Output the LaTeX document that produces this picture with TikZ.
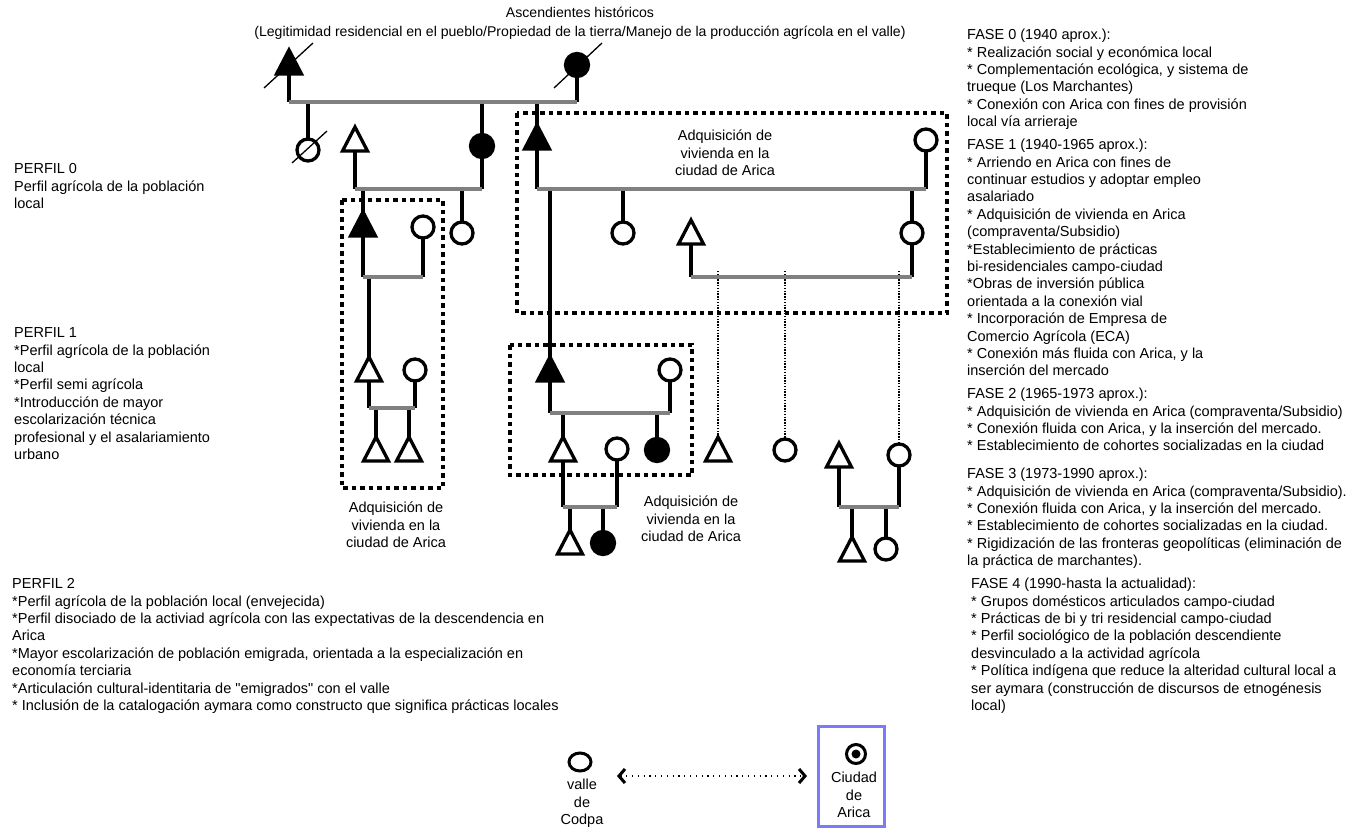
\documentclass[tikz,border=0pt]{standalone}
\usepackage{fontspec}
\setmainfont{Liberation Sans}[Ligatures=TeXOff]
\usetikzlibrary{shapes.geometric,arrows.meta}
\definecolor{tiegray}{RGB}{128,128,128}
\definecolor{legendblue}{RGB}{122,122,250}
\newcommand\txtsize{\fontsize{14.5}{17.4}\selectfont}
\newcommand\firstline{\rule{0pt}{11pt}}
\pgfdeclarelayer{bglayer}
\pgfdeclarelayer{kinlayer}
\pgfsetlayers{bglayer,kinlayer,main}

\begin{document}
\begin{tikzpicture}[x=1pt,y=-1pt,
  stem/.style={line width=3.3pt,black},
  tie/.style={line width=3.3pt,tiegray},
  dline/.style={line width=2.4pt,black,dash pattern=on 1.4pt off 1.4pt},
  dbox/.style={line width=3.4pt,black,dash pattern=on 4.5pt off 4pt},
  slash/.style={line width=1.3pt,black},
  male/.style={isosceles triangle,shape border rotate=90,
    isosceles triangle stretches=true,minimum width=25pt,minimum height=24pt,
    inner sep=0pt,outer sep=0pt,draw,line width=3.3pt,fill=white},
  fmale/.style={male,fill=black},
  female/.style={circle,minimum size=22pt,inner sep=0pt,outer sep=0pt,
    draw,line width=3.3pt,fill=white},
  ffemale/.style={female,fill=black,minimum size=23pt},
  lbl/.style={font=\txtsize,align=center,inner sep=0pt,anchor=north},
  txtblock/.style={font=\txtsize,align=left,inner sep=0pt,anchor=north west},
  legarrow/.style={line width=2.2pt,dash pattern=on 1.2pt off 4.6pt,
    {Straight Barb[length=6pt,width=14pt,line width=3pt]}-{Straight Barb[length=6pt,width=14pt,line width=3pt]}}
]
\begin{pgfonlayer}{bglayer}
\path[use as bounding box,fill=white] (0,0) rectangle (1364,828);
\end{pgfonlayer}

% ---------- texts ----------
\node[lbl,font=\fontsize{14.1}{17.4}\selectfont] (title) at (580,6.5) {\firstline Ascendientes históricos\\[1.5pt]
  (Legitimidad residencial en el pueblo/Propiedad de la tierra/Manejo de la producción agrícola en el valle)};

\node[txtblock] (p0) at (14,162.5) {\firstline PERFIL 0\\
  Perfil agrícola de la población\\local};
\node[txtblock] (p1) at (14,326.5) {\firstline PERFIL 1\\
  *Perfil agrícola de la población\\local\\*Perfil semi agrícola\\
  *Introducción de mayor\\escolarización técnica\\
  profesional y el asalariamiento\\urbano};
\node[txtblock] (p2) at (12,577.5) {\firstline PERFIL 2\\
  *Perfil agrícola de la población local (envejecida)\\
  *Perfil disociado de la activiad agrícola con las expectativas de la descendencia en\\
  Arica\\
  *Mayor escolarización de población emigrada, orientada a la especialización en\\
  economía terciaria\\
  *Articulación cultural-identitaria de "emigrados" con el valle\\
  * Inclusión de la catalogación aymara como constructo que significa prácticas locales};

\node[txtblock] (f0) at (967,28.5) {\firstline FASE 0 (1940 aprox.):\\
  * Realización social y económica local\\
  * Complementación ecológica, y sistema de\\
  trueque (Los Marchantes)\\
  * Conexión con Arica con fines de provisión\\
  local vía arrieraje};
\node[txtblock] (f1) at (967,138.5) {\firstline FASE 1 (1940-1965 aprox.):\\
  * Arriendo en Arica con fines de\\
  continuar estudios y adoptar empleo\\
  asalariado\\
  * Adquisición de vivienda en Arica\\
  (compraventa/Subsidio)\\
  *Establecimiento de prácticas\\
  bi-residenciales campo-ciudad\\
  *Obras de inversión pública\\
  orientada a la conexión vial\\
  * Incorporación de Empresa de\\
  Comercio Agrícola (ECA)\\
  * Conexión más fluida con Arica, y la\\
  inserción del mercado};
\node[txtblock] (f2) at (967,387.5) {\firstline FASE 2 (1965-1973 aprox.):\\
  * Adquisición de vivienda en Arica (compraventa/Subsidio)\\
  * Conexión fluida con Arica, y la inserción del mercado.\\
  * Establecimiento de cohortes socializadas en la ciudad};
\node[txtblock] (f3) at (967,467.5) {\firstline FASE 3 (1973-1990 aprox.):\\
  * Adquisición de vivienda en Arica (compraventa/Subsidio).\\
  * Conexión fluida con Arica, y la inserción del mercado.\\
  * Establecimiento de cohortes socializadas en la ciudad.\\
  * Rigidización de las fronteras geopolíticas (eliminación de\\
  la práctica de marchantes).};
\node[txtblock] (f4) at (971,577.5) {\firstline FASE 4 (1990-hasta la actualidad):\\
  * Grupos domésticos articulados campo-ciudad\\
  * Prácticas de bi y tri residencial campo-ciudad\\
  * Perfil sociológico de la población descendiente\\
  desvinculado a la actividad agrícola\\
  * Política indígena que reduce la alteridad cultural local a\\
  ser aymara (construcción de discursos de etnogénesis\\
  local)};

\node[lbl] (lab1) at (725,129.5) {\firstline Adquisición de\\vivienda en la\\ciudad de Arica};
\node[lbl] (lab2) at (396,501.5) {\firstline Adquisición de\\vivienda en la\\ciudad de Arica};
\node[lbl] (lab3) at (691,495.5) {\firstline Adquisición de\\vivienda en la\\ciudad de Arica};

% ---------- household boxes ----------
\draw[dbox] (342,200) rectangle (443,488);
\draw[dbox] (517,113) rectangle (947,313);
\draw[dbox] (510,345) rectangle (692,475);

% ---------- heights of the couple lines ----------
\coordinate (m0) at (0,102);
\coordinate (m1) at (0,189);
\coordinate (m2) at (0,277);
\coordinate (m3) at (0,408);
\coordinate (m4) at (0,413);
\coordinate (m5) at (0,507);

% ---------- people ----------
\node[fmale,anchor=apex] (a1) at (289,50) {};
\node[ffemale] (a2) at (577,65) {};
\node[female] (b1) at (308,150) {};
\node[male,anchor=apex] (b2) at (355,127) {};
\node[ffemale] (b3) at (482,146) {};
\node[fmale,anchor=apex] (c0) at (537,125) {};
\node[female] (c1) at (926,140) {};
\node[fmale,anchor=apex] (d1) at (363,212) {};
\node[female] (d2) at (462,233) {};
\node[female] (d3) at (423,227) {};
\node[male,anchor=apex] (e1) at (369,357) {};
\node[female] (e2) at (415,370) {};
\node[male,anchor=apex] (f1) at (376,437) {};
\node[male,anchor=apex] (f2) at (409,437) {};
\node[female] (g2) at (623,233) {};
\node[female] (g3) at (912,233) {};
\node[male,anchor=apex] (g4) at (691,220) {};
\node[fmale,anchor=apex] (h1) at (550,357) {};
\node[female] (h2) at (670,370) {};
\node[male,anchor=apex] (k1) at (563,437) {};
\node[ffemale] (k2) at (657,450) {};
\node[female] (k3) at (617,449) {};
\node[male,anchor=apex] (l1) at (570,530) {};
\node[ffemale] (l2) at (603,543) {};
\node[male,anchor=apex] (i1) at (718,437) {};
\node[female] (i2) at (785,450) {};
\node[female] (i3) at (899,455) {};
\node[male,anchor=apex] (i4) at (839,443) {};
\node[male,anchor=apex] (j1) at (852,537) {};
\node[female] (j2) at (886,549) {};

% deceased marks
\draw[slash] ([shift={(-25,38)}]a1.apex) -- ([shift={(24,-7)}]a1.apex);
\draw[slash] ([shift={(-23,23)}]a2.center) -- ([shift={(25,-22)}]a2.center);
\draw[slash] ([shift={(-16,13)}]b1.center) -- ([shift={(19,-19)}]b1.center);

% ---------- kinship lines ----------
\begin{pgfonlayer}{kinlayer}
% founding couple and its children
\draw[stem] (a1.lower side) -- (a1.lower side |- m0);
\draw[stem] (a2.south) -- (a2.south |- m0);
\draw[stem] (b1.north |- m0) -- (b1.north);
\draw[stem] (b3.north |- m0) -- (b3.north);
\draw[stem] (c0.apex |- m0) -- (c0.apex);
\draw[tie] (a1.lower side |- m0) -- (a2.south |- m0);

% couple b2-b3 and children
\draw[stem] (b2.lower side) -- (b2.lower side |- m1);
\draw[stem] (b3.south) -- (b3.south |- m1);
\draw[stem] (d1.apex |- m1) -- (d1.apex);
\draw[stem] (d2.north |- m1) -- (d2.north);
\draw[tie] (b2.lower side |- m1) -- (b3.south |- m1);

% couple d1-d3 and descendants
\draw[stem] (d1.lower side) -- (d1.lower side |- m2);
\draw[stem] (d3.south) -- (d3.south |- m2);
\draw[stem] (e1.apex |- m2) -- (e1.apex);
\draw[tie] (d1.lower side |- m2) -- (d3.south |- m2);
\draw[stem] (e1.lower side) -- (e1.lower side |- m3);
\draw[stem] (e2.south) -- (e2.south |- m3);
\draw[stem] (f1.apex |- m3) -- (f1.apex);
\draw[stem] (f2.apex |- m3) -- (f2.apex);
\draw[tie] (e1.lower side |- m3) -- (e2.south |- m3);

% couple c0-c1 and children
\draw[stem] (c0.lower side) -- (c0.lower side |- m1);
\draw[stem] (c1.south) -- (c1.south |- m1);
\draw[stem] (h1.apex |- m1) -- (h1.apex);
\draw[stem] (g2.north |- m1) -- (g2.north);
\draw[stem] (g3.north |- m1) -- (g3.north);
\draw[tie] (c0.lower side |- m1) -- (c1.south |- m1);

% couple g4-g3 and children
\draw[stem] (g4.lower side) -- (g4.lower side |- m2);
\draw[stem] (g3.south) -- (g3.south |- m2);
\draw[dline] ([yshift=6pt]i1.apex |- m2) -- (i1.apex);
\draw[dline] ([yshift=6pt]i2.north |- m2) -- (i2.north);
\draw[dline] ([yshift=6pt]i3.north |- m2) -- (i3.north);
\draw[tie] (g4.lower side |- m2) -- (g3.south |- m2);
\draw[stem] (i4.lower side) -- (i4.lower side |- m5);
\draw[stem] (i3.south) -- (i3.south |- m5);
\draw[stem] (j1.apex |- m5) -- (j1.apex);
\draw[stem] (j2.north |- m5) -- (j2.north);
\draw[tie] (i4.lower side |- m5) -- (i3.south |- m5);

% couple h1-h2 and descendants
\draw[stem] (h1.lower side) -- (h1.lower side |- m4);
\draw[stem] (h2.south) -- (h2.south |- m4);
\draw[stem] (k1.apex |- m4) -- (k1.apex);
\draw[stem] (k2.north |- m4) -- (k2.north);
\draw[tie] (h1.lower side |- m4) -- (h2.south |- m4);
\draw[stem] (k1.lower side) -- (k1.lower side |- m5);
\draw[stem] (k3.south) -- (k3.south |- m5);
\draw[stem] (l1.apex |- m5) -- (l1.apex);
\draw[stem] (l2.north |- m5) -- (l2.north);
\draw[tie] (k1.lower side |- m5) -- (k3.south |- m5);
\end{pgfonlayer}

% ---------- legend ----------
\node[ellipse,draw,line width=3pt,minimum width=22pt,minimum height=18pt,inner sep=0pt] (valle) at (580,762) {};
\node[lbl] (vallet) at (582,778.5) {\firstline valle\\de\\Codpa};
\node[draw=legendblue,line width=3pt,minimum width=66pt,minimum height=100pt,inner sep=0pt] (ciudad) at (851.5,776) {};
\node[circle,draw,line width=3pt,minimum size=19pt,inner sep=0pt] (target) at (856,754) {};
\node[circle,fill,minimum size=9pt,inner sep=0pt] (targetdot) at (target.center) {};
\node[lbl] (ciudadt) at (854,771.5) {\firstline Ciudad\\de\\Arica};
\coordinate (arrL) at (617,776);
\coordinate (arrR) at (807,776);
\draw[legarrow] (arrL) -- (arrR);
\end{tikzpicture}
\end{document}
